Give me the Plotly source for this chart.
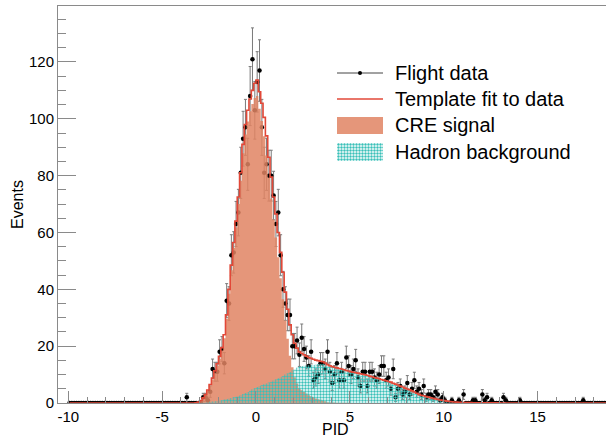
import numpy as np
import plotly.graph_objects as go

# ---------------- data (histogram bins of width 0.125 from -10 to 20) ----------------
bin_low = -10.0
bin_width = 0.125

# Flight data counts, one row per unit of PID (8 bins per row), rows start at -10
flight_data = [
    0, 0, 0, 0, 0, 0, 0, 0,          # -10
    0, 0, 0, 0, 0, 0, 0, 0,          # -9
    0, 0, 0, 0, 0, 0, 0, 0,          # -8
    0, 0, 0, 0, 0, 0, 0, 0,          # -7
    0, 0, 0, 0, 0, 0, 0, 0,          # -6
    0, 0, 0, 0, 0, 0, 0, 0,          # -5
    0, 0, 2, 0, 0, 0, 0, 0,          # -4
    0, 2, 2, 1, 4, 12, 11, 11,       # -3
    18, 19, 14, 36, 35, 52, 53, 63,  # -2
    67, 81, 93, 97, 84, 108, 121, 103,  # -1
    113, 117, 97, 81, 84, 80, 80, 73,   # 0
    63, 67, 52, 40, 35, 31, 31, 20,  # 1
    20, 22, 17, 23, 19, 16, 13, 18,  # 2
    8, 9, 10, 14, 14, 12, 18, 11,    # 3
    7, 10, 14, 8, 11, 8, 16, 13,     # 4
    10, 12, 15, 9, 6, 11, 11, 6,     # 5
    11, 11, 9, 8, 10, 13, 13, 8,     # 6
    9, 5, 12, 2, 5, 6, 3, 4,         # 7
    7, 3, 5, 8, 4, 5, 3, 6,          # 8
    2, 3, 3, 2, 4, 3, 1, 2,          # 9
    1, 0, 0, 1, 0, 0, 1, 0,          # 10
    3, 0, 0, 0, 1, 1, 0, 0,          # 11
    3, 1, 2, 0, 1, 0, 0, 0,          # 12
    0, 2, 1, 0, 0, 0, 0, 0,          # 13
    1, 0, 0, 0, 0, 0, 0, 0,          # 14
    0, 0, 0, 0, 0, 0, 0, 0,          # 15
    0, 0, 0, 0, 0, 0, 0, 0,          # 16
    0, 0, 0, 1, 0, 0, 0, 0,          # 17
    0, 0, 0, 0, 0, 0, 0, 0,          # 18
    0, 0, 0, 0, 0, 0, 0, 0,          # 19
]

# CRE signal template (fitted)
cre_signal = [
    0, 0, 0, 0, 0, 0, 0, 0,          # -10
    0, 0, 0, 0, 0, 0, 0, 0,          # -9
    0, 0, 0, 0, 0, 0, 0, 0,          # -8
    0, 0, 0, 0, 0, 0, 0, 0,          # -7
    0, 0, 0, 0, 0, 0, 0, 0,          # -6
    0, 0, 0, 0, 0, 0, 0, 0,          # -5
    0, 0, 0, 0, 0, 0, 0.1, 0.3,      # -4
    0.85, 1.7, 2.8, 4.3, 6.1, 8.3, 10.7, 13.1,       # -3
    15.6, 18.5, 22.8, 29.6, 38.4, 46.7, 54.5, 61.8,  # -2
    70.0, 78.2, 87.9, 94.5, 99.1, 102.7, 105.2, 107.3,  # -1
    108.0, 103.5, 99.2, 93.9, 87.1, 79.3, 72.0, 64.6,   # 0
    58.2, 51.3, 43.9, 36.5, 29.0, 22.6, 16.6, 12.6,     # 1
    9.1, 6.9, 5.2, 4.5, 3.9, 3.3, 2.7, 2.35,         # 2
    2.0, 1.6, 1.3, 1.1, 0.9, 0.6, 0.3, 0.2,          # 3
    0.15, 0.15, 0.1, 0.1, 0.1, 0.05, 0.05, 0.05,     # 4
    0, 0, 0, 0, 0, 0, 0, 0,          # 5
    0, 0, 0, 0, 0, 0, 0, 0,          # 6
    0, 0, 0, 0, 0, 0, 0, 0,          # 7
    0, 0, 0, 0, 0, 0, 0, 0,          # 8
    0, 0, 0, 0, 0, 0, 0, 0,          # 9
    0, 0, 0, 0, 0, 0, 0, 0,          # 10
    0, 0, 0, 0, 0, 0, 0, 0,          # 11
    0, 0, 0, 0, 0, 0, 0, 0,          # 12
    0, 0, 0, 0, 0, 0, 0, 0,          # 13
    0, 0, 0, 0, 0, 0, 0, 0,          # 14
    0, 0, 0, 0, 0, 0, 0, 0,          # 15
    0, 0, 0, 0, 0, 0, 0, 0,          # 16
    0, 0, 0, 0, 0, 0, 0, 0,          # 17
    0, 0, 0, 0, 0, 0, 0, 0,          # 18
    0, 0, 0, 0, 0, 0, 0, 0,          # 19
]

# Hadron background template (fitted)
hadron_background = [
    0, 0, 0, 0, 0, 0, 0, 0,          # -10
    0, 0, 0, 0, 0, 0, 0, 0,          # -9
    0, 0, 0, 0, 0, 0, 0, 0,          # -8
    0, 0, 0, 0, 0, 0, 0, 0,          # -7
    0, 0, 0, 0, 0, 0, 0, 0,          # -6
    0, 0, 0, 0, 0, 0, 0, 0,          # -5
    0, 0, 0, 0, 0, 0, 0, 0,          # -4
    0.05, 0.1, 0.2, 0.3, 0.4, 0.5, 0.6, 0.7,          # -3
    0.8, 1.0, 1.2, 1.4, 1.6, 1.8, 2.0, 2.2,           # -2
    2.5, 2.8, 3.1, 3.5, 3.9, 4.3, 4.8, 5.2,           # -1
    5.6, 6.0, 6.3, 6.6, 6.9, 7.2, 7.5, 7.9,           # 0
    8.3, 8.7, 9.1, 9.5, 10.0, 10.4, 10.9, 11.4,       # 1
    11.9, 12.4, 12.8, 13.0, 13.1, 13.2, 13.3, 13.35,  # 2
    13.4, 13.5, 13.6, 13.6, 13.6, 13.5, 13.2, 12.9,   # 3
    12.65, 12.45, 12.25, 12.05, 11.85, 11.65, 11.4, 11.2,  # 4
    11.0, 10.8, 10.65, 10.5, 10.3, 10.1, 9.95, 9.75,  # 5
    9.45, 9.25, 8.95, 8.75, 8.55, 8.25, 8.05, 7.85,   # 6
    7.55, 7.35, 6.95, 6.65, 6.35, 5.95, 5.65, 5.25,   # 7
    4.95, 4.65, 4.25, 3.85, 3.45, 3.05, 2.75, 2.55,   # 8
    2.25, 2.05, 1.85, 1.65, 1.45, 1.25, 1.05, 0.95,   # 9
    0.85, 0.65, 0.55, 0.45, 0.35, 0.3, 0.25, 0.25,    # 10
    0.2, 0.2, 0.15, 0.15, 0.1, 0.1, 0.1, 0.1,         # 11
    0.05, 0.05, 0.05, 0.05, 0.05, 0.05, 0.05, 0.05,   # 12
    0, 0, 0, 0, 0, 0, 0, 0,          # 13
    0, 0, 0, 0, 0, 0, 0, 0,          # 14
    0, 0, 0, 0, 0, 0, 0, 0,          # 15
    0, 0, 0, 0, 0, 0, 0, 0,          # 16
    0, 0, 0, 0, 0, 0, 0, 0,          # 17
    0, 0, 0, 0, 0, 0, 0, 0,          # 18
    0, 0, 0, 0, 0, 0, 0, 0,          # 19
]

x_tick_vals = [-10, -5, 0, 5, 10, 15]
x_tick_text = ["-10", "-5", "0", "5", "10", "15"]
legend_labels = ["Flight data", "Template fit to data", "CRE signal", "Hadron background"]
x_title = "PID"
y_title = "Events"

# ---------------- derived ----------------
n_bins = len(flight_data)
centers = bin_low + bin_width * (np.arange(n_bins) + 0.5)
data = np.array(flight_data, dtype=float)
sig = np.array(cre_signal, dtype=float)
bkg = np.array(hadron_background, dtype=float)
total = sig + bkg
err = np.sqrt(data)

# ---------------- style ----------------
FONT = "Liberation Sans"
SALMON = "rgba(225,132,99,0.85)"
TEAL = "rgb(56,192,184)"
RED = "rgb(226,72,56)"
AXIS = "#8a8a8a"

W, H = 606, 440
ML, MR, MT, MB = 58, 0, 6, 37
PW, PH = W - ML - MR, H - MT - MB


def px_x(px):
    return (px - ML) / PW


def px_y(py):
    return (H - MB - py) / PH


PATTERN = dict(shape=".", fgcolor=TEAL, bgcolor="rgba(0,0,0,0)", size=3, solidity=0.5, fillmode="replace")

fig = go.Figure()

fig.add_trace(go.Scatter(
    x=centers, y=data, mode="markers",
    marker=dict(color="black", size=4.5),
    error_y=dict(type="data", array=err, symmetric=True, color="#7a7a7a", thickness=1, width=1.5),
    showlegend=False, name=legend_labels[0],
))
fig.add_trace(go.Scatter(
    x=centers, y=sig, mode="lines", line=dict(shape="hvh", width=0, color=SALMON),
    fill="tozeroy", fillcolor=SALMON, showlegend=False, name=legend_labels[2],
))
fig.add_trace(go.Scatter(
    x=centers, y=bkg, mode="lines", line=dict(shape="hvh", width=0, color=TEAL),
    fill="tozeroy", fillcolor="rgba(0,0,0,0)", fillpattern=PATTERN,
    showlegend=False, name=legend_labels[3],
))
fig.add_trace(go.Scatter(
    x=centers, y=total, mode="lines", line=dict(shape="hvh", width=1.6, color=RED),
    showlegend=False, name=legend_labels[1],
))

# hatched legend swatch on its own small axes
fig.add_trace(go.Bar(
    x=[0], y=[1], width=[1], xaxis="x2", yaxis="y2",
    marker=dict(color="rgba(0,0,0,0)", line=dict(width=0), pattern=PATTERN),
    showlegend=False, hoverinfo="skip",
))

shapes = []
# legend: flight data
shapes.append(dict(type="line", xref="paper", yref="paper", x0=px_x(337), x1=px_x(383), y0=px_y(73), y1=px_y(73),
                   line=dict(color="#444", width=1)))
shapes.append(dict(type="circle", xref="paper", yref="paper", xsizemode="pixel", ysizemode="pixel",
                   xanchor=px_x(360), yanchor=px_y(73), x0=-2, x1=2, y0=-2, y1=2,
                   fillcolor="black", line=dict(width=0)))
# legend: template fit
shapes.append(dict(type="line", xref="paper", yref="paper", x0=px_x(337), x1=px_x(383), y0=px_y(99), y1=px_y(99),
                   line=dict(color=RED, width=1.6)))
# legend: CRE signal box
shapes.append(dict(type="rect", xref="paper", yref="paper", x0=px_x(337), x1=px_x(383), y0=px_y(134), y1=px_y(117),
                   fillcolor=SALMON, line=dict(width=0)))

annotations = []
for label, yc in zip(legend_labels, [73, 99, 125, 152]):
    annotations.append(dict(text=label, xref="paper", yref="paper", x=px_x(393), y=px_y(yc),
                            xanchor="left", yanchor="middle", showarrow=False,
                            font=dict(family=FONT, size=20, color="black")))
annotations.append(dict(text=y_title, xref="paper", yref="paper", x=px_x(18), y=px_y(205), textangle=-90,
                        xanchor="center", yanchor="middle", showarrow=False,
                        font=dict(family=FONT, size=16, color="black")))
annotations.append(dict(text=x_title, xref="paper", yref="paper", x=px_x(335), y=px_y(429),
                        xanchor="center", yanchor="middle", showarrow=False,
                        font=dict(family=FONT, size=16, color="black")))

fig.update_layout(
    width=W, height=H, margin=dict(l=ML, r=MR, t=MT, b=MB, pad=0),
    paper_bgcolor="white", plot_bgcolor="white", showlegend=False,
    font=dict(family=FONT, color="black"),
    xaxis=dict(range=[-10.55, 18.65], tickvals=x_tick_vals, ticktext=x_tick_text,
               ticks="inside", ticklen=12, tickwidth=1, tickcolor=AXIS,
               minor=dict(dtick=1, tick0=0, ticks="inside", ticklen=6, tickcolor=AXIS),
               showline=True, linecolor=AXIS, linewidth=1, mirror=True,
               showgrid=False, zeroline=False, tickfont=dict(family=FONT, size=15, color="black")),
    yaxis=dict(range=[0, 139.7], dtick=20, tick0=0,
               ticks="inside", ticklen=18, tickwidth=1, tickcolor=AXIS,
               minor=dict(dtick=5, tick0=0, ticks="inside", ticklen=8, tickcolor=AXIS),
               showline=True, linecolor=AXIS, linewidth=1,
               showgrid=False, zeroline=False, tickfont=dict(family=FONT, size=15, color="black")),
    xaxis2=dict(domain=[px_x(337), px_x(383)], range=[-0.5, 0.5], anchor="y2", visible=False, fixedrange=True),
    yaxis2=dict(domain=[px_y(161), px_y(143)], range=[0, 1], anchor="x2", visible=False, fixedrange=True),
    bargap=0,
    shapes=shapes, annotations=annotations,
)

fig.write_html(
    "out.html",
    config={"displayModeBar": False},
    post_script="document.body.style.margin='0';document.body.style.overflow='hidden';",
)
